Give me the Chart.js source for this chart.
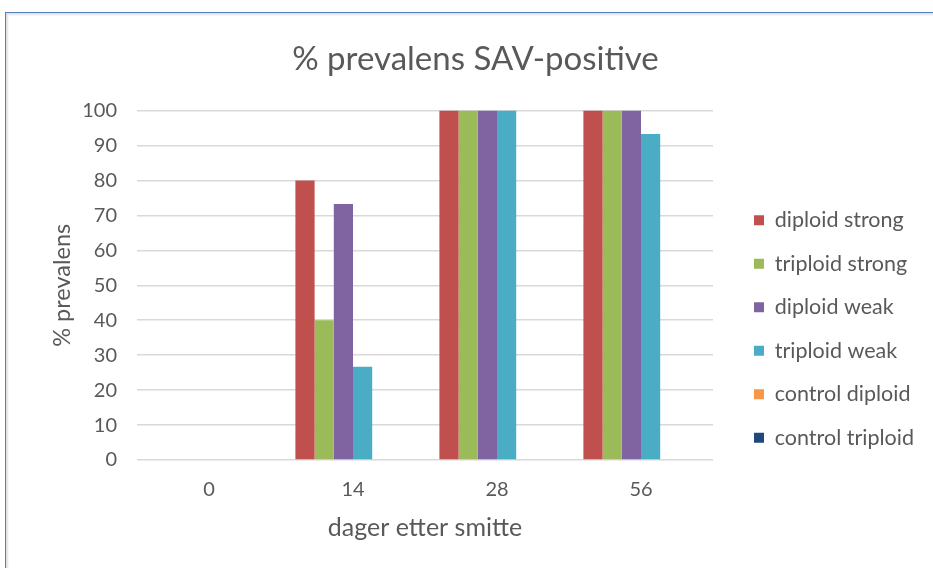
<!DOCTYPE html>
<html>
<head>
<meta charset="utf-8">
<script src="https://cdn.jsdelivr.net/npm/chart.js@4.4.0/dist/chart.umd.min.js"></script>
<style>
  html, body { margin: 0; padding: 0; background: #fff; overflow: hidden; }
  body { width: 933px; height: 568px; position: relative; }
  #frame {
    position: absolute; left: 5px; top: 12px; width: 940px; height: 570px;
    border-left: 1px solid #4F81BD; border-top: 1px solid #4F81BD;
    box-shadow: inset 2px 2px 2px rgba(0,0,0,0.12);
  }
  #wrap { position: absolute; left: 6px; top: 13px; width: 939px; height: 555px; }
</style>
</head>
<body>
<div id="frame"></div>
<div id="wrap"><canvas id="chart-1"></canvas></div>
<script>
const days = ["0", "14", "28", "56"];
const seriesNames = ["diploid strong", "triploid strong", "diploid weak", "triploid weak", "control diploid", "control triploid"];
const diploidStrong = [0, 80, 100, 100];
const triploidStrong = [0, 40, 100, 100];
const diploidWeak = [0, 73.3, 100, 100];
const triploidWeak = [0, 26.7, 100, 93.3];
const controlDiploid = [0, 0, 0, 0];
const controlTriploid = [0, 0, 0, 0];
const yTicks = [0, 10, 20, 30, 40, 50, 60, 70, 80, 90, 100];

const colors = ["#C0504D", "#9BBB59", "#8064A2", "#4BACC6", "#F79646", "#1F497D"];
const values = [diploidStrong, triploidStrong, diploidWeak, triploidWeak, controlDiploid, controlTriploid];
const textColor = "#595959";
const fontFamily = "Lato, 'Open Sans', sans-serif";

// fixed legend width, items pushed away from the plot area and down a bit
const legendGap = {
  id: "legendGap",
  beforeInit(chart) {
    const fit = chart.legend.fit;
    chart.legend.fit = function () {
      fit.bind(chart.legend)();
      this.width = 232;
    };
  },
  afterLayout(chart) {
    const lg = chart.legend;
    lg.left += 19;
    lg.top += 51;
    lg.bottom += 51;
  }
};

const ctx1 = document.getElementById("chart-1").getContext("2d");
const myChart = new Chart(ctx1, {
  type: "bar",
  data: {
    labels: days,
    datasets: seriesNames.map((name, i) => ({
      label: name,
      data: values[i],
      backgroundColor: colors[i],
      borderWidth: 0,
      categoryPercentage: 0.8,
      barPercentage: 1.0,
    })),
  },
  options: {
    responsive: true,
    maintainAspectRatio: false,
    animation: false,
    layout: { padding: { left: 0, right: 0, top: 0, bottom: 25 } },
    plugins: {
      title: {
        display: true,
        text: "% prevalens SAV-positive",
        color: textColor,
        font: { family: fontFamily, size: 33, weight: "normal" },
        padding: { top: 27, bottom: 31 },
      },
      legend: {
        position: "right",
        labels: {
          color: textColor,
          font: { family: fontFamily, size: 21.5 },
          boxWidth: 10,
          boxHeight: 10,
          padding: 22,
        },
      },
      tooltip: { enabled: false },
    },
    scales: {
      x: {
        grid: { display: false },
        border: { display: false },
        ticks: { color: textColor, font: { family: fontFamily, size: 20 }, padding: 10 },
        title: {
          display: true,
          text: "dager etter smitte",
          color: textColor,
          font: { family: fontFamily, size: 25 },
          padding: { top: 1, bottom: 0 },
        },
      },
      y: {
        min: 0,
        max: 100,
        afterBuildTicks(scale) {
          scale.ticks = yTicks.map(v => ({ value: v }));
        },
        afterFit(scale) {
          scale.width = 131;
        },
        grid: { color: "#D9D9D9", lineWidth: 1.5, drawTicks: false },
        border: { display: false },
        ticks: { color: textColor, font: { family: fontFamily, size: 20 }, padding: 20 },
        title: {
          display: true,
          text: "% prevalens",
          color: textColor,
          font: { family: fontFamily, size: 23.5 },
          padding: { top: 42, bottom: 8 },
        },
      },
    },
  },
  plugins: [legendGap],
});
</script>
</body>
</html>
